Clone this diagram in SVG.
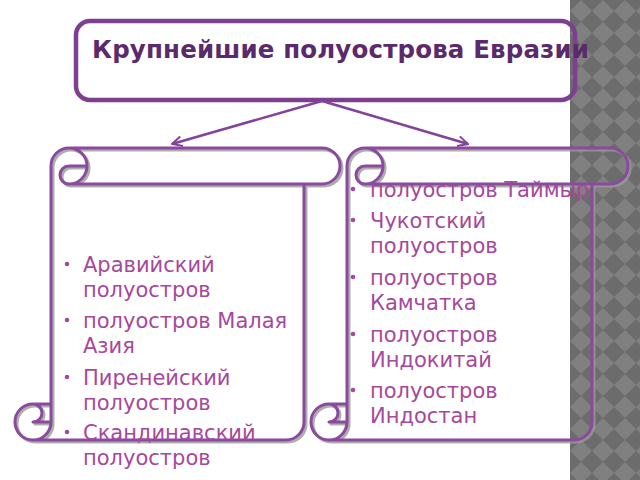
<svg xmlns="http://www.w3.org/2000/svg" width="640" height="480" viewBox="0 0 640 480">
  <defs>
    <pattern id="chk" x="570" y="0" width="22" height="22" patternUnits="userSpaceOnUse">
      <rect width="22" height="22" fill="#6c6c6c"/>
      <path d="M11 0 L22 11 L11 22 L0 11 Z" fill="#808080"/>
    </pattern>
    <marker id="arr" viewBox="0 0 12 12" refX="11" refY="6" markerWidth="12" markerHeight="12" markerUnits="userSpaceOnUse" orient="auto">
      <path d="M1 1 L11 6 L1 11" fill="none" stroke="#84439b" stroke-width="2"/>
    </marker>
    <style>
      .scroll { fill: none; stroke: #8a4a9d; stroke-width: 3; stroke-linejoin: round; stroke-linecap: round; }
      .shadow { fill: none; stroke: #9a9a9a; stroke-width: 3; stroke-linejoin: round; stroke-linecap: round; opacity: 0.8; }
      .item { font-family: "DejaVu Sans", "Noto Sans", sans-serif; font-size: 21px; fill: #a6489c; }
      .dot { fill: #a6489c; }
      .title { font-family: "DejaVu Sans", "Noto Sans", sans-serif; font-weight: bold; font-size: 24.5px; fill: #5b2a6c; }
      .conn { fill: none; stroke: #84439b; stroke-width: 2.5; }
    </style>
  </defs>

  <rect x="0" y="0" width="640" height="480" fill="#ffffff"/>
  <rect x="570" y="0" width="70" height="480" fill="url(#chk)"/>

  <g id="title">
    <rect x="76" y="21" width="499" height="79" rx="14" ry="14" fill="none" stroke="#7e3f90" stroke-width="4.5"/>
    <text class="title" x="92" y="58" textLength="497" lengthAdjust="spacing">Крупнейшие полуострова Евразии</text>
  </g>

  <g id="connectors">
    <line class="conn" x1="322" y1="101" x2="172" y2="144" marker-end="url(#arr)"/>
    <line class="conn" x1="322" y1="101" x2="468" y2="144" marker-end="url(#arr)"/>
  </g>

  <g id="scroll-left">
    <g transform="translate(2,2)">
      <path class="shadow" d="M51 404 L51 166 A18 18 0 0 1 69 148 L322 148 A18 18 0 0 1 322 184 L304 184 L304 422 A18 18 0 0 1 286 440 L33 440 A18 18 0 0 1 33 404 Z M69 148 A18 18 0 0 1 69 184 A9 9 0 0 1 69 166 L87 166 M304 184 L69 184 M33 404 A9 9 0 0 1 33 422 L51 422 M33 440 A18 18 0 0 0 51 422 L51 404"/>
    </g>
    <path class="scroll" d="M51 404 L51 166 A18 18 0 0 1 69 148 L322 148 A18 18 0 0 1 322 184 L304 184 L304 422 A18 18 0 0 1 286 440 L33 440 A18 18 0 0 1 33 404 Z M69 148 A18 18 0 0 1 69 184 A9 9 0 0 1 69 166 L87 166 M304 184 L69 184 M33 404 A9 9 0 0 1 33 422 L51 422 M33 440 A18 18 0 0 0 51 422 L51 404"/>
  </g>

  <g id="scroll-right">
    <g transform="translate(2,2)">
      <path class="shadow" d="M347 404 L347 166 A18 18 0 0 1 365 148 L610 148 A18 18 0 0 1 610 184 L592 184 L592 422 A18 18 0 0 1 574 440 L329 440 A18 18 0 0 1 329 404 Z M365 148 A18 18 0 0 1 365 184 A9 9 0 0 1 365 166 L383 166 M592 184 L365 184 M329 404 A9 9 0 0 1 329 422 L347 422 M329 440 A18 18 0 0 0 347 422 L347 404"/>
    </g>
    <path class="scroll" d="M347 404 L347 166 A18 18 0 0 1 365 148 L610 148 A18 18 0 0 1 610 184 L592 184 L592 422 A18 18 0 0 1 574 440 L329 440 A18 18 0 0 1 329 404 Z M365 148 A18 18 0 0 1 365 184 A9 9 0 0 1 365 166 L383 166 M592 184 L365 184 M329 404 A9 9 0 0 1 329 422 L347 422 M329 440 A18 18 0 0 0 347 422 L347 404"/>
  </g>

  <g id="list-left">
    <circle class="dot" cx="67" cy="264" r="2.3"/>
    <text class="item" x="83" y="272">Аравийский</text>
    <text class="item" x="83" y="297">полуостров</text>
    <circle class="dot" cx="67" cy="320" r="2.3"/>
    <text class="item" x="83" y="328">полуостров Малая</text>
    <text class="item" x="83" y="353">Азия</text>
    <circle class="dot" cx="67" cy="377" r="2.3"/>
    <text class="item" x="83" y="385">Пиренейский</text>
    <text class="item" x="83" y="410">полуостров</text>
    <circle class="dot" cx="67" cy="432" r="2.3"/>
    <text class="item" x="83" y="440">Скандинавский</text>
    <text class="item" x="83" y="465">полуостров</text>
  </g>

  <g id="list-right">
    <circle class="dot" cx="353" cy="189" r="2.3"/>
    <text class="item" x="370" y="197">полуостров Таймыр</text>
    <circle class="dot" cx="353" cy="220" r="2.3"/>
    <text class="item" x="370" y="228">Чукотский</text>
    <text class="item" x="370" y="253">полуостров</text>
    <circle class="dot" cx="353" cy="277" r="2.3"/>
    <text class="item" x="370" y="285">полуостров</text>
    <text class="item" x="370" y="310">Камчатка</text>
    <circle class="dot" cx="353" cy="334" r="2.3"/>
    <text class="item" x="370" y="342">полуостров</text>
    <text class="item" x="370" y="367">Индокитай</text>
    <circle class="dot" cx="353" cy="390" r="2.3"/>
    <text class="item" x="370" y="398">полуостров</text>
    <text class="item" x="370" y="423">Индостан</text>
  </g>
</svg>
